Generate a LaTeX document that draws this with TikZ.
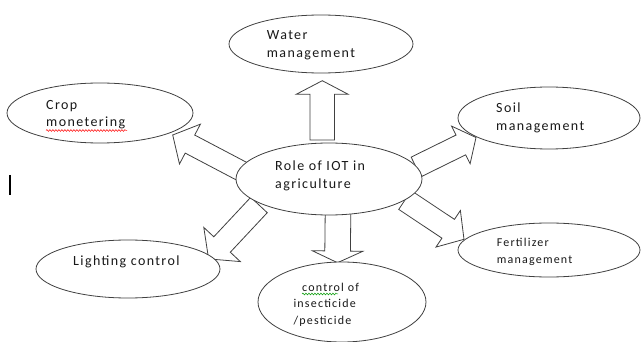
\documentclass[tikz,border=0pt]{standalone}
\usepackage{fontspec}
\setmainfont{Carlito}[LetterSpace=10]
\usetikzlibrary{shapes.geometric,calc,decorations.pathmorphing}
\tikzset{
  oval/.style={ellipse, draw=black!75, fill=white, line width=0.8pt, inner sep=0pt},
  arr/.style={draw=black!75, fill=white, line width=0.8pt, line join=miter},
  lbl/.style={anchor=base west, inner sep=0pt, font=\fontsize{14}{16}\selectfont, text=black!90},
  slbl/.style={anchor=base west, inner sep=0pt, font=\fontsize{12}{14}\selectfont, text=black!90},
  squig/.style={line width=0.5pt, decorate, decoration={snake, amplitude=0.9pt, segment length=3pt}}
}
\newcommand\blockarr[5]{%
  \coordinate (hb) at ($(#2)!#5!(#1)$);
  \draw[arr] ($(#1)!#3!90:(#2)$) -- ($(hb)!#3!90:(#2)$) -- ($(hb)!#4!90:(#2)$)
    -- (#2) -- ($(hb)!#4!-90:(#2)$) -- ($(hb)!#3!-90:(#2)$) -- ($(#1)!#3!-90:(#2)$) -- cycle;
}
\begin{document}
\begin{tikzpicture}[x=1pt,y=-1pt]
\useasboundingbox (0,0) rectangle (641,342);
% arrow end points
\coordinate (uS) at (322.2,140);  \coordinate (uT) at (322.3,80.7);
\coordinate (dS) at (338,213);    \coordinate (dT) at (337.5,262.7);
\coordinate (cS) at (244,172.5);  \coordinate (cT) at (172.7,135);
\coordinate (sS) at (416,167);    \coordinate (sT) at (476,137.5);
\coordinate (lS) at (259,205);    \coordinate (lT) at (208.6,258.9);
\coordinate (fS) at (405,200);    \coordinate (fT) at (464,239.3);
\blockarr{uS}{uT}{12.2pt}{26pt}{13.6pt}
\blockarr{dS}{dT}{12.8pt}{25.3pt}{11.7pt}
\blockarr{cS}{cT}{10.2pt}{22.5pt}{19.5pt}
\blockarr{sS}{sT}{11pt}{21pt}{16.9pt}
\blockarr{lS}{lT}{11.3pt}{25pt}{19.7pt}
\blockarr{fS}{fT}{11.3pt}{22pt}{19pt}
% ellipses
\node[oval, minimum width=184pt, minimum height=58pt] (water) at (321,44) {};
\node[oval, minimum width=186pt, minimum height=60pt] (crop) at (100,113) {};
\node[oval, minimum width=182pt, minimum height=62pt] (soil) at (549,118) {};
\node[oval, minimum width=186pt, minimum height=72pt] (role) at (329,179) {};
\node[oval, minimum width=184pt, minimum height=58pt] (light) at (128,269) {};
\node[oval, minimum width=182pt, minimum height=54pt] (fert) at (549,250) {};
\node[oval, minimum width=168pt, minimum height=80pt] (ctrl) at (342,302) {};
% texts
\node[lbl] (t1) at (266.7,40) {Water};
\node[lbl] (t2) at (266.7,58) {management};
\node[lbl] (t3) at (46,110) {Crop};
\node[lbl] (t4) at (46,127) {monetering};
\node[lbl] (t5) at (496,113) {Soil};
\node[lbl] (t6) at (496,131) {management};
\node[lbl] (t7) at (275,171) {Role of IOT in};
\node[lbl] (t8) at (275,189) {agriculture};
\node[lbl] (t9) at (73,266) {Lighting control};
\node[slbl] (t10) at (496.7,247) {Fertilizer};
\node[slbl] (t11) at (496.7,264) {management};
\node[slbl] (t12) at (302,291) {control of};
\node[slbl] (t13) at (293.3,307.7) {insecticide};
\node[slbl] (t14) at (293.3,324.3) {/pesticide};
% spell-check marks
\draw[squig, red] (t4.base west) ++(0,3.5) -- ++(81,0);
\draw[squig, green!60!black] (t12.base west) ++(0,3) -- ++(36,0);
% cursor mark
\draw[line width=2pt, black] (10,175) -- (10,195);
\end{tikzpicture}
\end{document}
